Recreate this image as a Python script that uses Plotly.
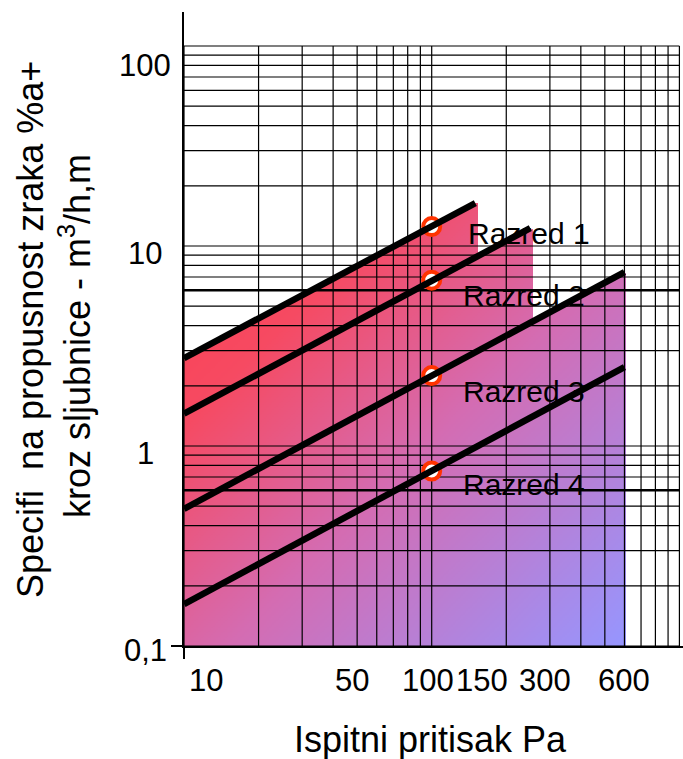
import numpy as np
import plotly.graph_objects as go

# ---------------- data ----------------
CLASS_NAMES = ["Razred 1", "Razred 2", "Razred 3", "Razred 4"]
PRESSURE_START = [10, 10, 10, 10]          # Pa
PRESSURE_END = [150, 250, 600, 600]        # Pa
FLOW_START = [2.75, 1.45, 0.485, 0.162]    # m3/h,m at start pressure
FLOW_END = [16.4, 12.3, 7.4, 2.48]         # m3/h,m at end pressure
REF_PRESSURE = [100, 100, 100, 100]        # Pa (marked points)
REF_FLOW = [12.5, 6.75, 2.25, 0.75]        # m3/h,m at 100 Pa

X_TICKS = [10, 50, 100, 150, 300, 600]
X_TICK_TEXT = ["10", "50", "100", "150", "300", "600"]
Y_TICKS = [0.1, 1, 10, 100]
Y_TICK_TEXT = ["0,1", "1", "10", "100"]

GRID_X = [10, 20, 30, 40, 50, 60, 70, 80, 90, 100,
          200, 300, 400, 500, 600, 700, 800, 900, 1000]
GRID_Y = [0.1, 0.2, 0.3, 0.4, 0.5, 0.6, 0.7, 0.8, 0.9,
          1, 2, 3, 4, 5, 6, 7, 8, 9,
          10, 20, 30, 40, 50, 60, 70, 80, 90, 100]
HEAVY_Y = [0.6, 6]

X_TITLE = "Ispitni pritisak Pa"
Y_TITLE_1 = "Specifi\u00a0\u00a0na propusnost zraka %a+"
Y_TITLE_2 = "kroz sljubnice - m<sup>3</sup>/h,m"

# ---------------- style ----------------
FONT = "Liberation Sans, Arial, sans-serif"
GRAD = [[0.0, "rgb(255,62,78)"], [0.25, "rgb(246,74,98)"],
        [0.55, "rgb(212,108,178)"], [1.0, "rgb(150,150,255)"]]
RING = "#FF3300"
LABEL_SHIFT = [(34, -7), (29, -15), (29, -16), (29, -14)]
X_LABEL_SHIFT = {10: 3, 50: -5, 100: -4, 150: 7, 300: -5, 600: 0}
Y_LABEL_SHIFT = {0.1: -4, 1: -7, 10: -7, 100: -19}

W, H = 683, 759
ML, MR, MT, MB = 184, 0, 12, 113
XR = [1.0, 3.0145]
YR = [-1.0, 2.17]


def line_value(i, p):
    """log-log straight line through the class's two end points"""
    lp0, lp1 = np.log10(PRESSURE_START[i]), np.log10(PRESSURE_END[i])
    lf0, lf1 = np.log10(FLOW_START[i]), np.log10(FLOW_END[i])
    return 10 ** (lf0 + (np.log10(p) - lp0) * (lf1 - lf0) / (lp1 - lp0))


# ---------------- gradient fill (stepped envelope under class lines 1-3) ---
lx0, lx1 = np.log10(min(PRESSURE_START)), np.log10(max(PRESSURE_END))
ly0, ly1 = YR[0], np.log10(max(FLOW_END))
nx, ny = 260, 260
xe = np.linspace(lx0, lx1 + 0.008, nx + 1)
ye = np.linspace(ly0, ly1, ny + 1)
xc = 10 ** ((xe[:-1] + xe[1:]) / 2)
yc = 10 ** ((ye[:-1] + ye[1:]) / 2)
env = np.full(nx, np.nan)
for i in (2, 1, 0):
    m = xc <= PRESSURE_END[i] * 1.03
    env[m] = line_value(i, np.minimum(xc[m], PRESSURE_END[i]))
u = (np.log10(xc) - lx0) / (lx1 - lx0)
v = (ly1 - np.log10(yc)) / (ly1 - ly0)
Z = 0.5 * (u[None, :] + v[:, None])
Z = np.where(yc[:, None] <= env[None, :], Z, np.nan)

fig = go.Figure()
fig.add_trace(go.Heatmap(
    x=10 ** xe, y=10 ** ye, z=Z, zmin=0, zmax=1,
    colorscale=GRAD, showscale=False, hoverinfo="skip"))

# ---------------- grid ----------------
gx, gy = [], []
for xv in GRID_X:
    gx += [xv, xv, None]
    gy += [GRID_Y[0], GRID_Y[-1], None]
for yv in GRID_Y:
    if yv in HEAVY_Y:
        continue
    gx += [GRID_X[0], GRID_X[-1], None]
    gy += [yv, yv, None]
fig.add_trace(go.Scatter(x=gx, y=gy, mode="lines",
                         line=dict(color="black", width=1.2),
                         hoverinfo="skip", showlegend=False))
hx, hy = [], []
for yv in HEAVY_Y:
    hx += [GRID_X[0], GRID_X[-1], None]
    hy += [yv, yv, None]
fig.add_trace(go.Scatter(x=hx, y=hy, mode="lines",
                         line=dict(color="black", width=2.5),
                         hoverinfo="skip", showlegend=False))

# ---------------- reference points ----------------
fig.add_trace(go.Scatter(
    x=REF_PRESSURE, y=REF_FLOW, mode="markers",
    marker=dict(symbol="circle", size=17, color="white",
                line=dict(color=RING, width=4)),
    showlegend=False))

# ---------------- class lines ----------------
for i, name in enumerate(CLASS_NAMES):
    fig.add_trace(go.Scatter(
        x=[PRESSURE_START[i], PRESSURE_END[i]],
        y=[FLOW_START[i], FLOW_END[i]],
        mode="lines", line=dict(color="black", width=6.5),
        name=name, showlegend=False))

ann = []
for i, name in enumerate(CLASS_NAMES):
    ann.append(dict(x=np.log10(REF_PRESSURE[i]), y=np.log10(REF_FLOW[i]),
                    xref="x", yref="y", text=name, showarrow=False,
                    xanchor="left", yanchor="middle",
                    xshift=LABEL_SHIFT[i][0], yshift=LABEL_SHIFT[i][1],
                    font=dict(family=FONT, size=30, color="black")))

for xv, t in zip(X_TICKS, X_TICK_TEXT):
    first = xv == X_TICKS[0]
    ann.append(dict(x=np.log10(xv), y=-0.054, xref="x", yref="paper",
                    text=t, showarrow=False,
                    xanchor="left" if first else "center", yanchor="middle",
                    xshift=X_LABEL_SHIFT[xv],
                    font=dict(family=FONT, size=31, color="black")))
for yv, t in zip(Y_TICKS, Y_TICK_TEXT):
    ann.append(dict(x=-0.078, y=np.log10(yv), xref="paper", yref="y",
                    text=t, showarrow=False, xanchor="center",
                    yanchor="middle", yshift=Y_LABEL_SHIFT[yv],
                    font=dict(family=FONT, size=31, color="black")))

ann.append(dict(x=(430 - ML) / (W - ML - MR), y=(H - MB - 739) / (H - MT - MB),
                xref="paper", yref="paper", text=X_TITLE, showarrow=False,
                xanchor="center", yanchor="middle",
                font=dict(family=FONT, size=36, color="black")))
ann.append(dict(x=(30 - ML) / (W - ML - MR), y=(H - MB - 330) / (H - MT - MB),
                xref="paper", yref="paper", text=Y_TITLE_1, showarrow=False,
                textangle=-90, xanchor="center", yanchor="middle",
                font=dict(family=FONT, size=36, color="black")))
ann.append(dict(x=(75 - ML) / (W - ML - MR), y=(H - MB - 336) / (H - MT - MB),
                xref="paper", yref="paper", text=Y_TITLE_2, showarrow=False,
                textangle=-90, xanchor="center", yanchor="middle",
                font=dict(family=FONT, size=36, color="black")))

fig.update_layout(
    width=W, height=H,
    margin=dict(l=ML, r=MR, t=MT, b=MB, pad=0),
    paper_bgcolor="white", plot_bgcolor="white",
    showlegend=False, annotations=ann,
    xaxis=dict(type="log", range=XR, showgrid=False, zeroline=False,
               showline=True, linecolor="black", linewidth=2,
               ticks="outside", tickvals=[X_TICKS[0]], ticklen=11,
               tickwidth=2, tickcolor="black", showticklabels=False),
    yaxis=dict(type="log", range=YR, showgrid=False, zeroline=False,
               showline=True, linecolor="black", linewidth=2,
               ticks="outside", tickvals=[Y_TICKS[0]], ticklen=11,
               tickwidth=2, tickcolor="black", showticklabels=False),
)

fig.write_html("out.html")
